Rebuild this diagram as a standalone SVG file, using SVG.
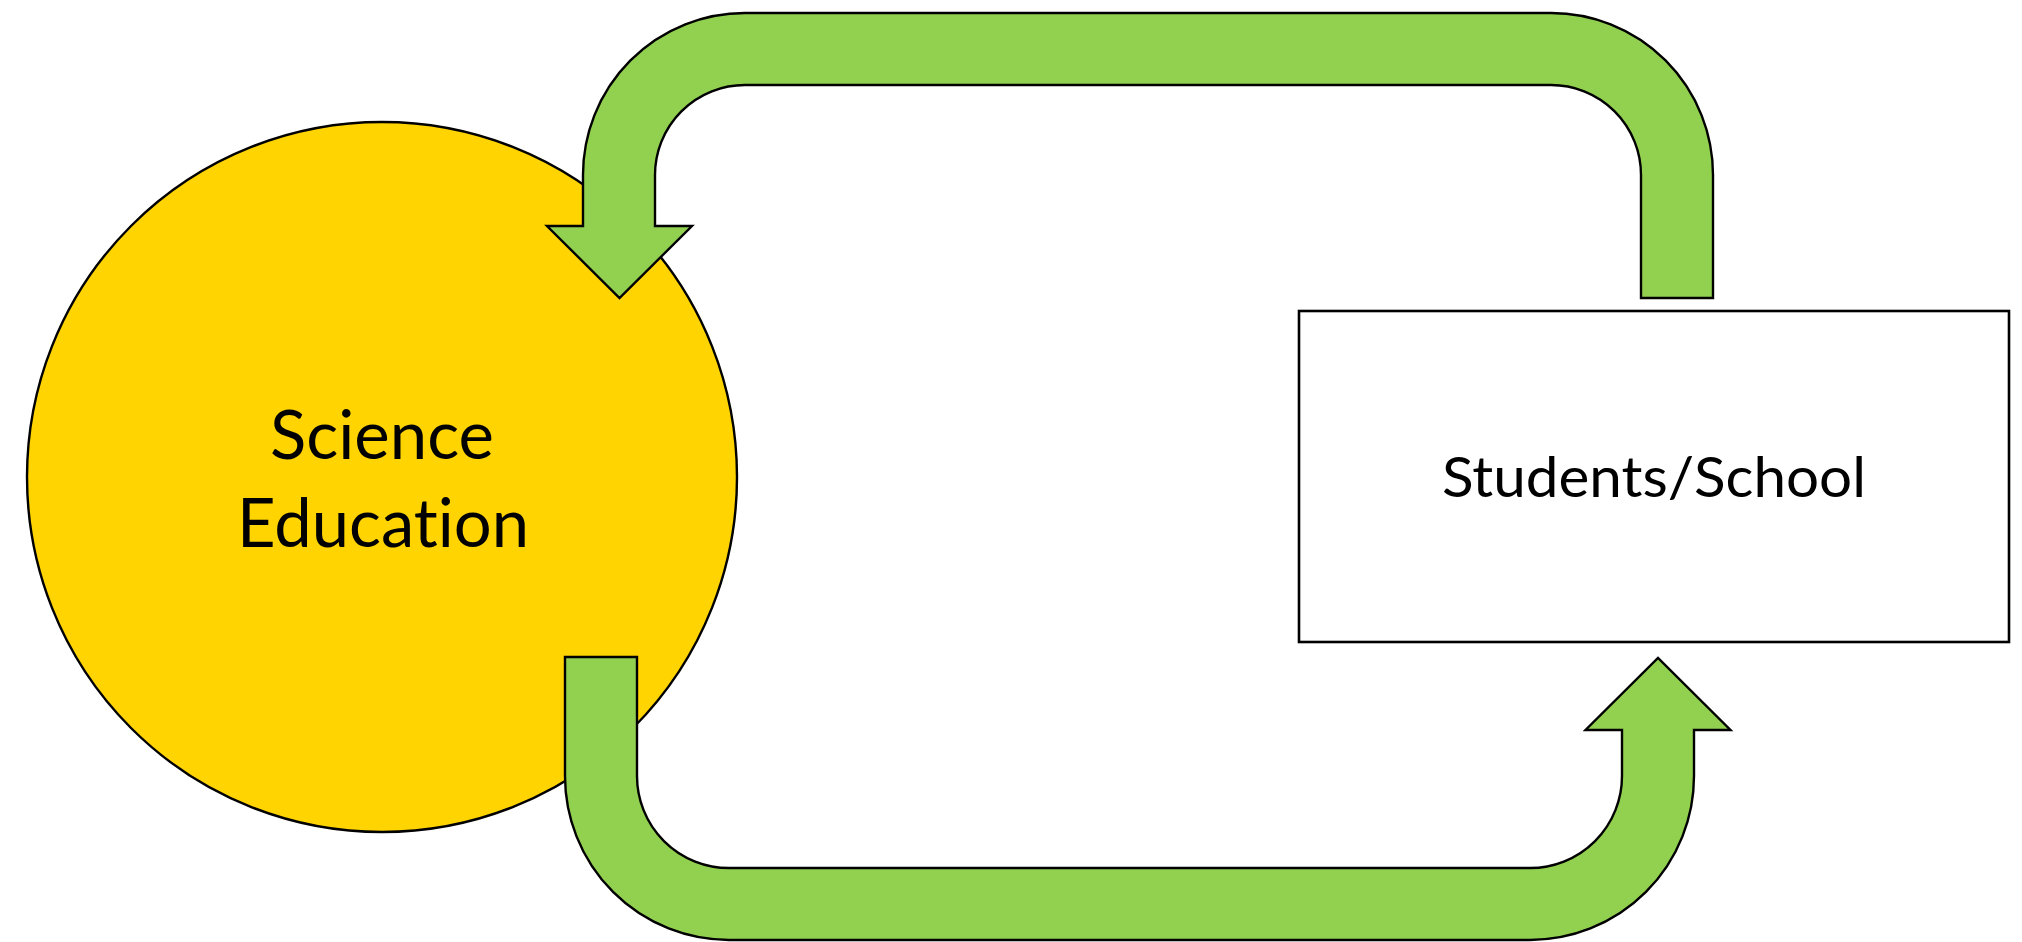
<svg xmlns="http://www.w3.org/2000/svg" width="2022" height="942" viewBox="0 0 2022 942">
<style>
.arrow{fill:#92D050;stroke:#000;stroke-width:2.4;stroke-linejoin:miter}
.lbl{font-family:Lato,"Open Sans","Liberation Sans",sans-serif;fill:#000;text-anchor:middle;font-variant-ligatures:none;font-feature-settings:"liga" 0,"clig" 0}
</style>
<rect width="2022" height="942" fill="#fff"/>
<g id="science-education">
<circle cx="382" cy="477" r="355" fill="#FFD400" stroke="#000" stroke-width="2.4"/>
<text class="lbl" x="382" y="459" font-size="67" textLength="224" lengthAdjust="spacingAndGlyphs">Science</text>
<text class="lbl" x="383" y="547" font-size="67" textLength="292" lengthAdjust="spacingAndGlyphs">Education</text>
</g>
<g id="students-school">
<rect x="1299" y="311" width="710" height="331" fill="#fff" stroke="#000" stroke-width="2.6"/>
<text class="lbl" x="1654" y="497" font-size="57" textLength="424" lengthAdjust="spacingAndGlyphs">Students/School</text>
</g>
<g id="connectors">
<path class="arrow" d="M1713,298 L1713,175 A162,162 0 0 0 1551,13 L745,13 A162,162 0 0 0 583,175 L583,226 L547,226 L619.5,298 L692,226 L655,226 L655,175 A90,90 0 0 1 745,85 L1551,85 A90,90 0 0 1 1641,175 L1641,298 Z"/>
<path class="arrow" d="M565,657 L565,776 A164,164 0 0 0 729,940 L1530,940 A164,164 0 0 0 1694,776 L1694,730 L1730.5,730 L1658,658 L1585.5,730 L1622,730 L1622,776 A92,92 0 0 1 1530,868 L729,868 A92,92 0 0 1 637,776 L637,657 Z"/>
</g>
</svg>
